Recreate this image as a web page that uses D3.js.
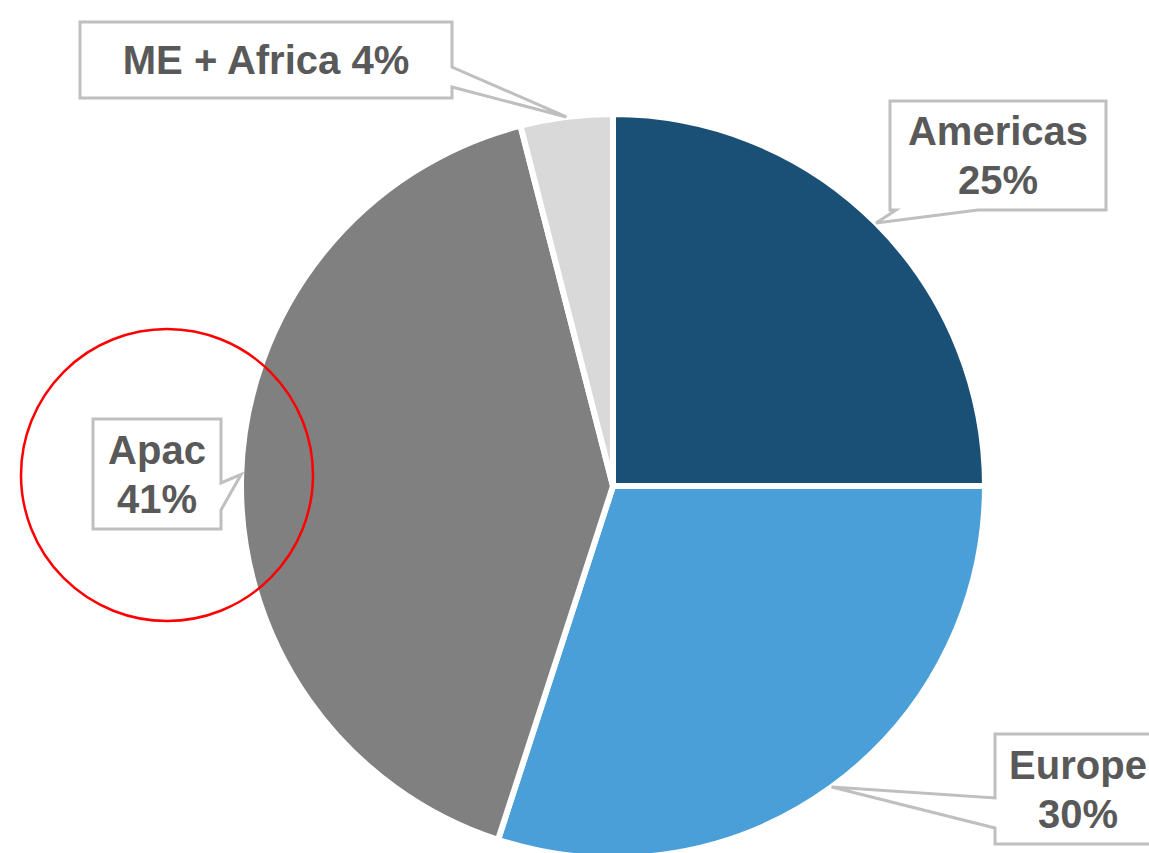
<!DOCTYPE html>
<html>
<head>
<meta charset="utf-8">
<script src="https://cdn.jsdelivr.net/npm/d3@7"></script>
<style>
  body { margin: 0; background: #fff; }
  svg text { font-family: "Liberation Sans", Arial, sans-serif; font-weight: bold; }
</style>
</head>
<body>
<svg id="chart"></svg>
<script>
// data
var regions = ["Americas", "Europe", "Apac", "ME + Africa"];
var shares = [25, 30, 41, 4];
var labelLines = [["Americas", "25%"], ["Europe", "30%"], ["Apac", "41%"], ["ME + Africa 4%"]];

var width = 1149;
var height = 853;

var svg = d3.select("#chart")
    .attr("width", width)
    .attr("height", height);

var cx = 613, cy = 486, radius = 372;

var color = d3.scaleOrdinal()
    .domain(regions)
    .range(["#1a5075", "#4a9fd8", "#808080", "#d9d9d9"]);

var pie = d3.pie().sort(null).value(function(d) { return d; });
var arcs = pie(shares);

var arc = d3.arc().innerRadius(0).outerRadius(radius);
var tipArc = d3.arc().innerRadius(radius).outerRadius(radius);

var g = svg.append("g").attr("transform", "translate(" + cx + "," + cy + ")");

g.selectAll("path.slice")
    .data(arcs)
    .enter()
    .append("path")
    .attr("class", "slice")
    .attr("d", arc)
    .attr("fill", function(d, i) { return color(regions[i]); })
    .attr("stroke", "#fff")
    .attr("stroke-width", 6)
    .attr("stroke-linejoin", "round");

// callout boxes (Excel style), placed by hand like the original
var boxes = [
    {x: 890, y: 101, w: 216, h: 109, side: "bottom", a1: 896, a2: 978},
    {x: 995, y: 734, w: 166, h: 110, side: "left", a1: 798, a2: 828},
    {x: 93, y: 419, w: 128, h: 110, side: "right", a1: 483, a2: 510},
    {x: 80, y: 22, w: 372, h: 76, side: "right", a1: 67, a2: 87}
];

var calloutPath = function(b, tip)
{
    var x0 = b.x, y0 = b.y, x1 = b.x + b.w, y1 = b.y + b.h;
    var t = tip[0] + "," + tip[1];
    if (b.side == "right")
        return "M" + x0 + "," + y0 + "H" + x1 + "V" + b.a1 + "L" + t + "L" + x1 + "," + b.a2 + "V" + y1 + "H" + x0 + "Z";
    if (b.side == "left")
        return "M" + x0 + "," + y0 + "H" + x1 + "V" + y1 + "H" + x0 + "V" + b.a2 + "L" + t + "L" + x0 + "," + b.a1 + "Z";
    if (b.side == "bottom")
        return "M" + x0 + "," + y0 + "H" + x1 + "V" + y1 + "H" + b.a2 + "L" + t + "L" + b.a1 + "," + y1 + "H" + x0 + "Z";
    return "M" + x0 + "," + y0 + "H" + b.a1 + "L" + t + "L" + b.a2 + "," + y0 + "H" + x1 + "V" + y1 + "H" + x0 + "Z";
};

var labels = svg.selectAll("g.label")
    .data(arcs)
    .enter()
    .append("g")
    .attr("class", "label");

labels.append("path")
    .attr("d", function(d, i) {
        var c = tipArc.centroid(d);
        return calloutPath(boxes[i], [cx + c[0], cy + c[1]]);
    })
    .attr("fill", "#fff")
    .attr("stroke", "#bfbfbf")
    .attr("stroke-width", 3)
    .attr("stroke-linejoin", "miter");

labels.each(function(d, i) {
    var b = boxes[i];
    var lines = labelLines[i];
    var lineH = 49;
    var first = b.y + b.h / 2 - (lines.length - 1) * lineH / 2 + 14;
    d3.select(this).selectAll("text")
        .data(lines)
        .enter()
        .append("text")
        .attr("x", b.x + b.w / 2)
        .attr("y", function(t, j) { return first + j * lineH; })
        .attr("text-anchor", "middle")
        .attr("font-size", 40)
        .attr("fill", "#595959")
        .text(function(t) { return t; });
});

// red highlight circle around the Apac label
svg.append("circle")
    .attr("cx", 167)
    .attr("cy", 475)
    .attr("r", 146)
    .attr("fill", "none")
    .attr("stroke", "#ff0000")
    .attr("stroke-width", 2.5);
</script>
</body>
</html>
